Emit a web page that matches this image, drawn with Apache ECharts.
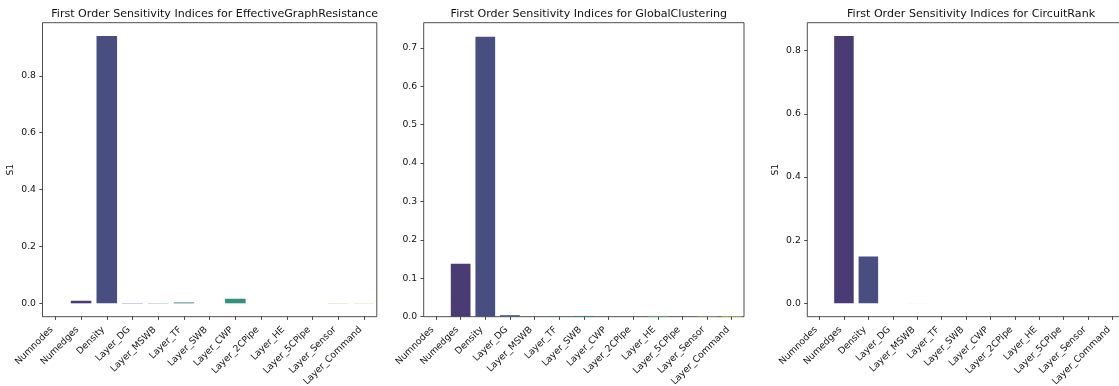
<!DOCTYPE html>
<html>
<head>
<meta charset="utf-8">
<script src="https://cdn.jsdelivr.net/npm/echarts@6/dist/echarts.min.js"></script>
<style>
  html, body { margin: 0; padding: 0; background: #fff; }
  #chart { width: 1119px; height: 386px; }
</style>
</head>
<body>
<div id="chart"></div>
<script>
// Parameters of the network model
const categories = ['Numnodes', 'Numedges', 'Density', 'Layer_DG', 'Layer_MSWB', 'Layer_TF', 'Layer_SWB',
  'Layer_CWP', 'Layer_2CPipe', 'Layer_HE', 'Layer_5CPipe', 'Layer_Sensor', 'Layer_Command'];

// First order Sobol indices (S1) per output metric
const resistanceS1 = [0, 0.009, 0.940, 0.001, 0.0008, 0.003, -0.0001, 0.016, 0, 0, 0, 0.0008, 0.0008];
const clusteringS1 = [0, 0.138, 0.729, 0.004, 0, 0.001, 0.002, 0, 0, 0.002, 0, 0.001, 0.0015];
const circuitS1 = [0, 0.846, 0.148, 0, -0.0001, 0, 0, 0, 0, 0, 0, 0, 0];

const panelTitles = ['First Order Sensitivity Indices for EffectiveGraphResistance',
  'First Order Sensitivity Indices for GlobalClustering',
  'First Order Sensitivity Indices for CircuitRank'];
const yTicks02 = [0, 0.2, 0.4, 0.6, 0.8];
const yTicks01 = [0, 0.1, 0.2, 0.3, 0.4, 0.5, 0.6, 0.7];

// viridis sampled at 13 evenly spaced points
const viridis13 = ['#48176a', '#46327e', '#3f4788', '#375b8c', '#2e6d8e', '#277f8e', '#21918c',
  '#20a287', '#2eb27d', '#4bc16d', '#73cf55', '#a0d938', '#d0e11d'];

// reduce HLS saturation like seaborn's bar palette (0.75)
function desaturate(hex, prop) {
  let r = parseInt(hex.slice(1, 3), 16) / 255, g = parseInt(hex.slice(3, 5), 16) / 255, b = parseInt(hex.slice(5, 7), 16) / 255;
  const mx = Math.max(r, g, b), mn = Math.min(r, g, b);
  const l = (mx + mn) / 2;
  if (mx === mn) return hex;
  let s = l <= 0.5 ? (mx - mn) / (mx + mn) : (mx - mn) / (2 - mx - mn);
  const rc = (mx - r) / (mx - mn), gc = (mx - g) / (mx - mn), bc = (mx - b) / (mx - mn);
  let h;
  if (r === mx) h = bc - gc; else if (g === mx) h = 2 + rc - bc; else h = 4 + gc - rc;
  h = ((h / 6) % 1 + 1) % 1;
  s *= prop;
  const m2 = l <= 0.5 ? l * (1 + s) : l + s - l * s;
  const m1 = 2 * l - m2;
  const v = (hue) => {
    hue = ((hue % 1) + 1) % 1;
    if (hue < 1 / 6) return m1 + (m2 - m1) * hue * 6;
    if (hue < 0.5) return m2;
    if (hue < 2 / 3) return m1 + (m2 - m1) * (2 / 3 - hue) * 6;
    return m1;
  };
  const to = (x) => Math.round(Math.max(0, Math.min(1, x)) * 255).toString(16).padStart(2, '0');
  return '#' + to(v(h + 1 / 3)) + to(v(h)) + to(v(h - 1 / 3));
}
const barColors = viridis13.map(c => desaturate(c, 0.75));

// value range with 5% padding; bars stick to zero when nothing is negative
function yRange(vals) {
  const lo = Math.min(0, ...vals), hi = Math.max(...vals);
  const pad = 0.05 * (hi - lo);
  return { min: lo < 0 ? lo - pad : 0, max: hi + pad };
}

const FONT = 'DejaVu Sans';
const TICK_FS = 9.26;
const panels = [
  { data: resistanceS1, ticks: yTicks02, yName: 'S1', left: 42.5, width: 334.3 },
  { data: clusteringS1, ticks: yTicks01, yName: '', left: 423.7, width: 320.3 },
  { data: circuitS1, ticks: yTicks02, yName: 'S1', left: 807.3, width: 317.5 }
];
const TOP = 22.7, HEIGHT = 294;

const option = {
  animation: false,
  backgroundColor: '#fff',
  title: panels.map((p, i) => ({
    text: panelTitles[i],
    left: p.left + p.width / 2,
    textAlign: 'center',
    top: 4,
    textStyle: { fontFamily: FONT, fontSize: 11.1, fontWeight: 'normal', color: '#111' }
  })),
  grid: panels.map(p => ({
    left: p.left, top: TOP, width: p.width, height: HEIGHT,
    show: true, borderColor: '#222', borderWidth: 0.8, backgroundColor: 'transparent',
    containLabel: false,
    outerBoundsMode: 'none'
  })),
  xAxis: panels.map((p, i) => ({
    type: 'category',
    gridIndex: i,
    data: categories,
    axisLine: { show: false, onZero: false },
    axisTick: { show: true, alignWithLabel: true, inside: false, length: 3.2, lineStyle: { color: '#222', width: 0.8 } },
    axisLabel: { interval: 0, rotate: 45, margin: 8, padding: [0, 5, 0, 0], fontFamily: FONT, fontSize: TICK_FS, color: '#111' },
    splitLine: { show: false }
  })),
  yAxis: panels.map((p, i) => {
    const r = yRange(p.data);
    return {
      type: 'value',
      gridIndex: i,
      min: r.min,
      max: r.max,
      name: p.yName,
      nameLocation: 'middle',
      nameGap: 27,
      nameTextStyle: { fontFamily: FONT, fontSize: TICK_FS, color: '#111' },
      axisLine: { show: false },
      axisTick: { show: true, customValues: p.ticks, length: 3.2, lineStyle: { color: '#222', width: 0.8 } },
      axisLabel: { customValues: p.ticks, formatter: v => v.toFixed(1), margin: 6.5, fontFamily: FONT, fontSize: TICK_FS, color: '#111' },
      splitLine: { show: false }
    };
  }),
  series: panels.map((p, i) => ({
    type: 'bar',
    xAxisIndex: i,
    yAxisIndex: i,
    barWidth: '80%',
    data: p.data.map((v, k) => ({ value: v, itemStyle: { color: barColors[k] } }))
  }))
};

const chart = echarts.init(document.getElementById('chart'), null, { renderer: 'canvas' });
chart.setOption(option);
</script>
</body>
</html>
